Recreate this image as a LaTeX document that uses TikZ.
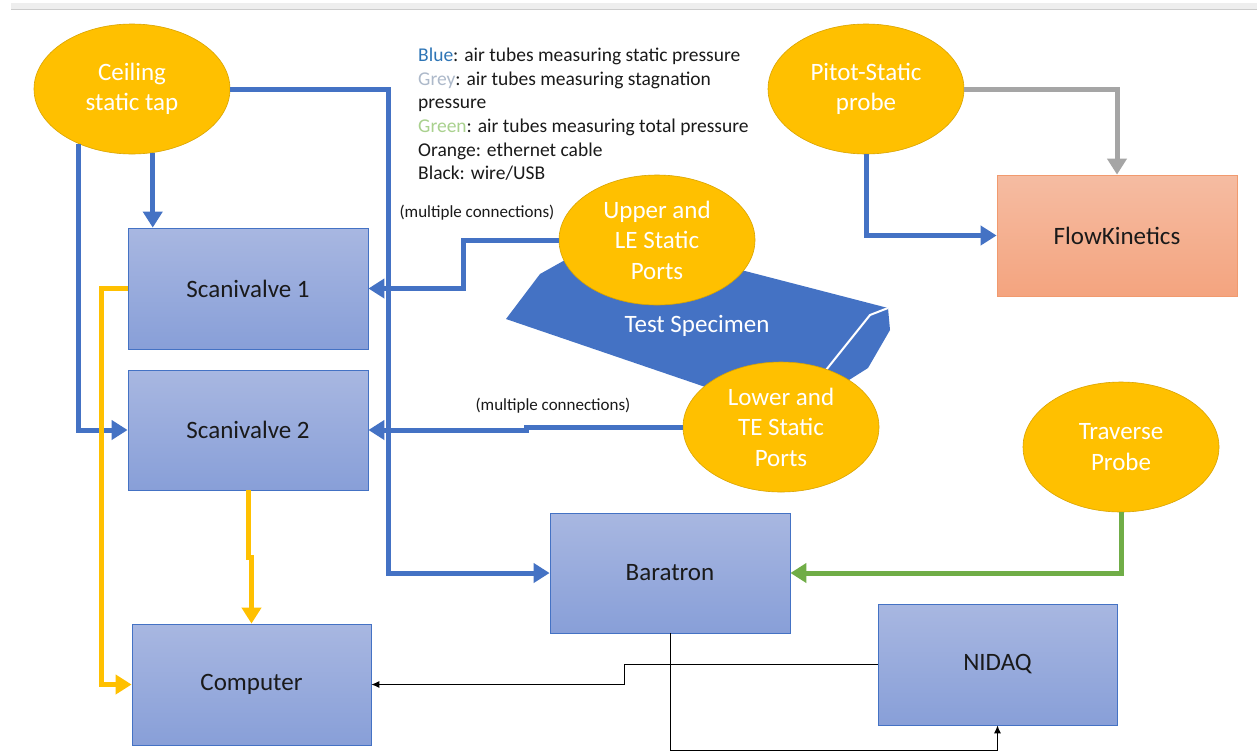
\documentclass[tikz,border=0pt]{standalone}
\usepackage{fontspec}
\setmainfont{Carlito}
\usetikzlibrary{arrows.meta,shapes.geometric}
\definecolor{tblue}{HTML}{4472C4}
\definecolor{tgold}{HTML}{FFC000}
\definecolor{tgoldd}{HTML}{D9A400}
\definecolor{boxtop}{HTML}{A8B7E1}
\definecolor{boxbot}{HTML}{889FD8}
\definecolor{fktop}{HTML}{F5BCA2}
\definecolor{fkbot}{HTML}{F4A47F}
\definecolor{fkline}{HTML}{F19A6E}
\definecolor{tgrey}{HTML}{A5A5A5}
\definecolor{tgreen}{HTML}{70AD47}
\definecolor{lblue}{HTML}{2E75B6}
\definecolor{lgrey}{HTML}{ADB9CA}
\definecolor{lgreen}{HTML}{A9D18E}
\definecolor{ink}{HTML}{1A1A1A}
\begin{document}
\begin{tikzpicture}[x=1pt,y=-1pt,
  blob/.style={ellipse, fill=tgold, draw=tgoldd, line width=0.6pt,
    minimum width=196pt, minimum height=130pt, inner sep=0pt, text=white,
    font=\fontsize{25}{30.5}\selectfont, align=center},
  unit/.style={rectangle, draw=tblue, line width=0.8pt, top color=boxtop,
    bottom color=boxbot, minimum width=240pt, minimum height=121pt,
    inner sep=0pt, text=ink, font=\fontsize{25}{30}\selectfont},
  fkunit/.style={unit, draw=fkline, top color=fktop, bottom color=fkbot},
  pipe/.style={line width=5pt, line join=miter, -{Triangle[length=16pt,width=19pt]}},
  bpipe/.style={pipe, draw=tblue},
  opipe/.style={pipe, draw=tgold},
  gpipe/.style={pipe, draw=tgrey},
  grpipe/.style={pipe, draw=tgreen},
  wire/.style={draw=black, line width=0.9pt, -{Latex[length=8pt,width=7pt]}},
  note/.style={font=\fontsize{17}{20}\selectfont, text=ink, inner sep=0pt}
]
\useasboundingbox (0,0) rectangle (1257,753);
\fill[white] (0,0) rectangle (1257,753);
% top bar
\fill[gray!13] (11,3) rectangle (1257,9);
\draw[gray!40, line width=0.8pt] (11,9.5) -- (1257,9.5);

% test specimen
\fill[tblue] (506,319) -- (540,274) -- (565,260) -- (640,245) -- (745,271)
  -- (888,308) -- (890,330) -- (868,368) -- (830,392) -- (720,392) -- cycle;
\draw[white, line width=2pt] (888,308) -- (870,315) -- (862,325) -- (826,370);
\node[text=white, font=\fontsize{25}{30}\selectfont, inner sep=0pt] (spec) at (697,326) {Test Specimen};

% ellipses
\node[blob] (ceil) at (132,89) {Ceiling\\static tap};
\node[blob] (pitot) at (866,89) {Pitot-Static\\probe};
\node[blob] (up) at (657,240) {Upper and\\LE Static\\Ports};
\node[blob] (lo) at (781,427) {Lower and\\TE Static\\Ports};
\node[blob] (trav) at (1121,447) {Traverse\\Probe};

% boxes
\node[unit] (sv1) at (248,288.5) {Scanivalve 1};
\node[unit, minimum height=120pt] (sv2) at (248,430) {Scanivalve 2};
\node[unit, minimum width=239pt] (comp) at (251.5,684.5) {Computer};
\node[unit, minimum height=120pt] (bar) at (670,573) {Baratron};
\node[unit, minimum width=239pt] (nidaq) at (997.5,664.5) {NIDAQ};
\node[fkunit] (fk) at (1117,235.5) {FlowKinetics};

% legend
\node[anchor=north west, align=left, inner sep=0pt, text=ink,
  font=\fontsize{19.5}{23.6}\selectfont] (legend) at (418,48)
  {\textcolor{lblue}{Blue}: air tubes measuring static pressure\\
   \textcolor{lgrey}{Grey}: air tubes measuring stagnation\\
   pressure\\
   \textcolor{lgreen}{Green}: air tubes measuring total pressure\\
   Orange: ethernet cable\\
   Black: wire/USB};
\node[note] (mc1) at (477,213) {(multiple connections)};
\node[note] (mc2) at (553,406) {(multiple connections)};

% blue static pipes
\draw[bpipe] (ceil.east) -- ++(158,0) |- (bar.west);
\draw[bpipe] (ceil.-72.5) -- (ceil.-72.5 |- sv1.north);
\draw[bpipe] (ceil.-134) |- (sv2.west);
\draw[bpipe] (up.west) -- ++(-95,0) |- (sv1.east);
\draw[bpipe] (lo.west) -- ++(-156,0) |- (sv2.east);
\draw[bpipe] (pitot.south) |- (fk.west);
% grey
\draw[gpipe] (pitot.east) -| (fk.north);
% green
\draw[grpipe] (trav.south) |- (bar.east);
% orange
\draw[opipe] (sv1.west) -- ++(-26,0) |- (comp.west);
\draw[opipe] (sv2.south) -- ++(0,67) -| (comp.north);
% black wires
\draw[wire] (nidaq.west) -- ++(-253,0) |- (comp.east);
\draw[wire] (bar.south) -- ++(0,117) -| (nidaq.south);
\end{tikzpicture}
\end{document}
